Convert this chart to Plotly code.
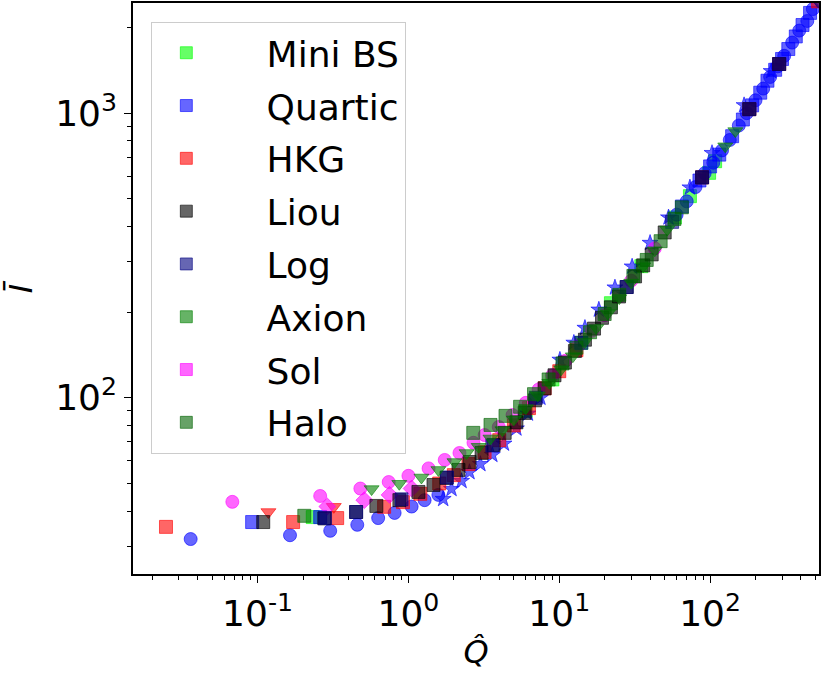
import plotly.graph_objects as go

# legend entries and colours (matplotlib style, alpha 0.6)
names = ['Mini BS', 'Quartic', 'HKG', 'Liou', 'Log', 'Axion', 'Sol', 'Halo']
colors = ['rgba(0,255,0,0.6)', 'rgba(0,0,255,0.6)', 'rgba(255,0,0,0.6)', 'rgba(0,0,0,0.6)',
          'rgba(0,0,128,0.6)', 'rgba(0,128,0,0.6)', 'rgba(255,0,255,0.6)', 'rgba(0,100,0,0.6)']

# values: q = Q-hat, i = I-bar
minibs_q = [0.232, 6.0, 9.0, 14.0, 22.0, 35.0, 58.4, 73.5, 98.5, 108.0]
minibs_i = [38.1, 90.0, 116.0, 156.0, 215.0, 290.0, 430.0, 511.0, 617.0, 678.0]

quartic_circ_q = [0.036, 0.164, 0.303, 0.458, 0.63, 0.81, 1.05, 1.28, 1.58,
                  60, 70, 80, 92, 105, 120, 135, 155, 175, 200, 225, 250, 280, 310, 350, 390, 441, 480]
quartic_circ_i = [31.9, 32.9, 34.1, 35.8, 37.8, 39.4, 41.5, 43.7, 45.6,
                  440, 490, 550, 615, 670, 740, 805, 905, 1000, 1110, 1220, 1340, 1460, 1590, 1770, 1950, 2108, 2320]
quartic_star_q = [1.70, 1.93, 2.25, 2.54, 3.0, 3.6, 4.3, 5.2, 6.2, 7.5, 10.1, 12.5, 14.8, 18.3, 23.4,
                  30.4, 40.0, 53.0, 73.5, 103.0, 168.0, 254.0]
quartic_star_i = [44.1, 47.8, 51.0, 54.8, 58.5, 63.0, 69.0, 78.0, 88.0, 100.0, 136.0, 156.0, 176.0, 204.0, 244.0,
                  289.0, 350.0, 430.0, 548.0, 724.0, 1066.0, 1404.0]
quartic_sq_q = [0.092, 0.26, 65, 85, 100, 115, 140, 165, 190, 215, 240, 270, 300, 330, 370, 410, 460]
quartic_sq_i = [36.6, 38.1, 470, 580, 650, 715, 830, 950, 1065, 1180, 1300, 1420, 1550, 1680, 1860, 2040, 2250]

hkg_sq_q = [0.0247, 0.172, 0.337, 0.69, 0.92, 1.2, 1.6, 2.0, 2.5, 3.2, 4.0, 5.0, 6.3, 8.0, 10.0, 13.0,
            88.5, 182.0, 287.0, 520.0]
hkg_sq_i = [35.2, 36.6, 37.8, 41.4, 43.0, 46.0, 50.0, 53.5, 58.5, 64.5, 71.0, 80.0, 92.0, 108.0, 124.0, 147.0,
            595.0, 1033.0, 1488.0, 2470.0]
hkg_tri_q = [0.118, 0.32]
hkg_tri_i = [39.7, 41.4]

liou_q = [0.109, 0.277, 0.45, 0.613, 0.871, 1.165, 1.466, 1.789, 2.148, 2.543, 3.055, 3.672, 4.345, 5.2, 5.9,
          6.9, 8.0, 9.3, 10.9, 12.7, 14.8, 17.0, 19.2, 22.0, 24.9, 28.0, 31.8, 36.0, 41.0, 50.0, 88.5, 182.0, 287.0]
liou_i = [36.6, 37.7, 39.7, 41.7, 43.7, 46.7, 49.4, 52.3, 55.8, 59.5, 64.0, 68.3, 75.3, 82.0, 88.5,
          98.0, 108.0, 120.0, 133.0, 146.0, 160.0, 175.0, 191.0, 208.0, 227.0, 245.0, 267.0, 292.0, 319.0, 381.0,
          595.0, 1033.0, 1488.0]

log_q = [0.28, 0.45, 0.9, 1.8, 3.6, 7.0, 14.0, 28.0, 56.0, 88.5, 182.0, 287.0]
log_i = [37.8, 39.7, 44.0, 52.5, 68.0, 100.0, 156.0, 245.0, 415.0, 595.0, 1033.0, 1488.0]
log_tri_q = [520.0]
log_tri_i = [2470.0]

axion_q = [0.57, 0.87, 1.22, 1.58, 2.02, 2.43, 2.92, 3.5, 4.2, 5.0, 6.0, 7.2, 8.6, 10.3, 12.3, 14.7,
           17.6, 21.0, 25.0, 30.0, 36.0, 43.0, 52.0, 126.0, 147.0]
axion_i = [47.8, 49.9, 52.5, 55.8, 59.5, 64.0, 67.3, 72.0, 77.0, 84.0, 92.0, 102.0, 113.0, 126.0, 140.0, 157.0,
           176.0, 198.0, 224.0, 254.0, 290.0, 330.0, 390.0, 765.0, 865.0]

sol_q = [0.068, 0.26, 0.48, 0.74, 1.0, 1.36, 1.74, 2.18, 2.7, 3.2, 3.97, 4.9, 6.0, 7.3, 9.0, 11.0,
         13.5, 16.5, 20.0, 25.0, 30.0, 43.0]
sol_i = [43.1, 45.2, 48.0, 50.6, 53.2, 56.5, 60.5, 64.0, 69.5, 74.0, 79.0, 87.0, 96.0, 107.0, 120.0, 135.0,
         153.0, 172.0, 195.0, 227.0, 258.0, 335.0]
sol_dia_q = [0.29, 0.51, 0.75, 1.05]
sol_dia_i = [41.5, 43.7, 45.6, 48.0]

halo_q = [0.204, 2.69, 3.5, 4.4, 5.5, 6.8, 8.5, 10.5, 13.0, 16.0, 20.0, 25.0, 31.0, 38.0, 47.0, 58.0, 65.0]
halo_i = [38.5, 75.3, 80.3, 86.4, 93.0, 103.0, 116.0, 132.0, 150.0, 170.0, 197.0, 230.0, 268.0, 305.0,
          355.0, 425.0, 467.0]

fig = go.Figure()

# legend only entries (all shown as squares like the original)
pad = '\u00a0' * 4
for n, c in zip(names, colors):
    fig.add_trace(go.Scatter(x=[None], y=[None], mode='markers', name=pad + n, legendgroup=n,
                             marker=dict(symbol='square', size=12, color=c,
                                         line=dict(width=1, color=c))))


def pts(q, i, c, sym, size=13):
    fig.add_trace(go.Scatter(x=q, y=i, mode='markers', showlegend=False,
                             marker=dict(symbol=sym, size=size, color=c,
                                         line=dict(width=1, color=c))))


pts(minibs_q, minibs_i, colors[0], 'square')
pts(quartic_circ_q, quartic_circ_i, colors[1], 'circle')
pts(quartic_sq_q, quartic_sq_i, colors[1], 'square')
pts(quartic_star_q, quartic_star_i, colors[1], 'star', 12)
pts(hkg_sq_q, hkg_sq_i, colors[2], 'square')
pts(hkg_tri_q, hkg_tri_i, colors[2], 'triangle-down')
pts(sol_q, sol_i, colors[6], 'circle')
pts(sol_dia_q, sol_dia_i, colors[6], 'diamond')
pts(liou_q, liou_i, colors[3], 'square')
pts(log_q, log_i, colors[4], 'square')
pts(log_tri_q, log_tri_i, colors[4], 'triangle-down')
pts(axion_q, axion_i, colors[5], 'triangle-down')
pts(halo_q, halo_i, colors[7], 'square')

# minor tick positions for the log axes
xminor = [m * 10 ** d for d in range(-2, 3) for m in range(2, 10)]
yminor = [m * 10 ** d for d in range(1, 4) for m in range(2, 10)]

fig.update_xaxes(type='log', range=[-1.826, 2.722], automargin=False,
                 tickvals=[0.1, 1, 10, 100],
                 ticktext=['10<sup>-1</sup>', '10<sup>0</sup>', '10<sup>1</sup>', '10<sup>2</sup>'],
                 tickfont=dict(size=36),
                 ticks='outside', ticklen=7, tickwidth=1.2, tickcolor='black',
                 minor=dict(tickvals=xminor, ticks='outside', ticklen=4, tickcolor='black'),
                 showline=True, linecolor='black', linewidth=1.5, mirror=True,
                 showgrid=False, zeroline=False,
                 title=dict(text='<i>Q\u0302</i>', font=dict(size=32), standoff=8))
fig.update_yaxes(type='log', range=[1.381, 3.387], automargin=False,
                 tickvals=[100, 1000],
                 ticktext=['10<sup>2</sup>', '10<sup>3</sup>'],
                 tickfont=dict(size=36),
                 ticks='outside', ticklen=7, tickwidth=1.2, tickcolor='black',
                 minor=dict(tickvals=yminor, ticks='outside', ticklen=4, tickcolor='black'),
                 showline=True, linecolor='black', linewidth=1.5, mirror=True,
                 showgrid=False, zeroline=False,
                 title=dict(text='<i>I\u0304</i>', font=dict(size=32), standoff=13))

fig.update_layout(
    width=830, height=697,
    margin=dict(l=133, r=11, t=3, b=123),
    plot_bgcolor='white', paper_bgcolor='white',
    font=dict(family='DejaVu Sans', size=36, color='black'),
    legend=dict(x=0.026, y=0.967, xanchor='left', yanchor='top',
                bgcolor='rgba(255,255,255,0.8)', bordercolor='#cccccc', borderwidth=1,
                font=dict(size=36), itemwidth=59, tracegroupgap=3),
)

# drop the browser's default 8px page margin so the figure sits at the window corner
fig.write_html('out.html', config={'displayModeBar': False},
               post_script="document.body.style.margin='0px';")
